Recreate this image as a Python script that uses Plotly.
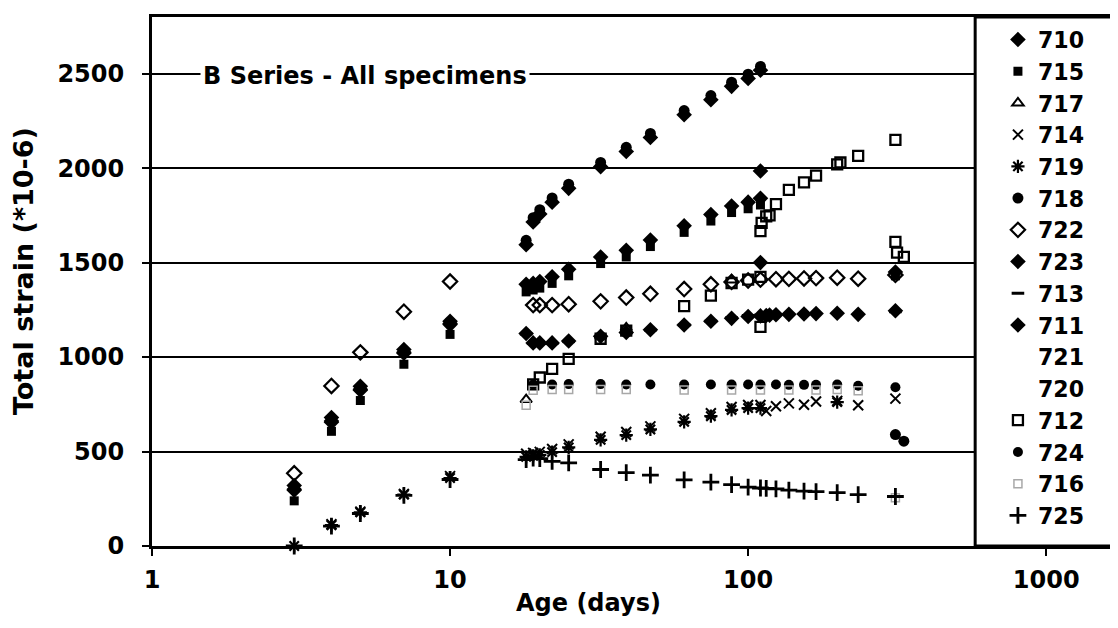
import plotly.graph_objects as go

# ---------------- data (age in days, total strain *10-6) ----------------
age_710 = [3, 4, 5, 7, 10, 18, 19, 20, 22, 25, 32, 39, 47, 61, 75, 88, 100, 110, 110]
s_710 = [320, 680, 845, 1040, 1190, 1595, 1715, 1757, 1820, 1893, 2008, 2088, 2162, 2283, 2362, 2433, 2475, 2518, 1985]

age_715 = [3, 4, 5, 7, 10, 18, 19, 20, 22, 25, 32, 39, 47, 61, 75, 88, 100, 110, 312]
s_715 = [239, 607, 770, 962, 1120, 1345, 1355, 1365, 1390, 1430, 1495, 1530, 1585, 1660, 1720, 1765, 1785, 1805, 1430]

age_717 = [18, 32, 39, 88]
s_717 = [775, 1112, 1155, 1408]

age_714 = [4, 5, 7, 10, 18, 19, 20, 22, 25, 32, 39, 47, 61, 75, 88, 100, 110, 115, 124, 137, 154, 169, 199, 234, 312]
s_714 = [115, 182, 275, 370, 488, 493, 498, 513, 538, 578, 603, 633, 673, 703, 736, 746, 746, 715, 740, 755, 748, 765, 768, 745, 780]

age_719 = [3, 4, 5, 7, 10, 18, 19, 20, 22, 25, 32, 39, 47, 61, 75, 88, 100, 110, 199]
s_719 = [0, 110, 178, 272, 360, 472, 477, 482, 497, 522, 562, 587, 617, 657, 687, 720, 730, 730, 762]

age_718 = [3, 4, 5, 7, 10, 18, 19, 20, 22, 25, 32, 39, 47, 61, 75, 88, 100, 110, 312, 333]
s_718 = [312, 668, 838, 1032, 1185, 1618, 1738, 1780, 1842, 1915, 2030, 2110, 2184, 2305, 2384, 2455, 2497, 2538, 590, 555]

age_722 = [3, 4, 5, 7, 10, 19, 20, 22, 25, 32, 39, 47, 61, 75, 88, 100, 110, 124, 137, 154, 169, 199, 234, 312]
s_722 = [385, 847, 1025, 1240, 1400, 1275, 1275, 1275, 1280, 1295, 1315, 1335, 1360, 1385, 1398, 1405, 1410, 1412, 1414, 1416, 1418, 1420, 1415, 1435]

age_723 = [3, 4, 5, 7, 10, 18, 19, 20, 22, 25, 32, 39, 47, 61, 75, 88, 100, 110, 110, 312]
s_723 = [300, 662, 830, 1025, 1178, 1385, 1390, 1400, 1425, 1465, 1530, 1565, 1620, 1695, 1755, 1800, 1820, 1840, 1500, 1450]

age_713 = [18, 19, 20, 22, 25, 32, 39, 47, 61, 75, 88, 100, 110, 312]
s_713 = [1122, 1072, 1072, 1072, 1082, 1108, 1128, 1143, 1170, 1190, 1208, 1220, 1222, 1240]

age_711 = [3, 4, 5, 7, 10, 18, 19, 20, 22, 25, 32, 39, 47, 61, 75, 88, 100, 110, 115, 118, 124, 137, 154, 169, 199, 234, 312]
s_711 = [295, 655, 825, 1020, 1172, 1125, 1075, 1075, 1075, 1085, 1110, 1130, 1145, 1170, 1190, 1205, 1215, 1218, 1220, 1222, 1224, 1226, 1228, 1230, 1232, 1226, 1245]

age_721 = [None]
s_721 = [None]
age_720 = [None]
s_720 = [None]

age_712 = [19, 20, 22, 25, 32, 39, 61, 75, 88, 100, 110, 110, 110, 111, 115, 118, 124, 137, 154, 169, 199, 204, 234, 312, 312, 316, 333]
s_712 = [855, 892, 938, 990, 1097, 1140, 1270, 1325, 1392, 1410, 1425, 1160, 1667, 1710, 1745, 1750, 1810, 1885, 1925, 1960, 2020, 2030, 2065, 2150, 1610, 1553, 1530]

age_724 = [19, 22, 25, 32, 39, 47, 61, 75, 88, 100, 110, 124, 137, 154, 169, 199, 234, 312]
s_724 = [855, 855, 857, 857, 855, 855, 855, 855, 855, 855, 855, 855, 853, 853, 853, 855, 848, 840]

age_716 = [18, 19, 22, 25, 32, 39, 61, 88, 110, 137, 169, 199, 234, 312]
s_716 = [745, 825, 828, 828, 828, 828, 826, 826, 826, 826, 826, 828, 822, 255]

age_725 = [3, 4, 5, 7, 10, 18, 19, 20, 22, 25, 32, 39, 47, 61, 75, 88, 100, 110, 115, 124, 137, 154, 169, 199, 234, 312]
s_725 = [0, 105, 172, 268, 352, 457, 465, 462, 448, 440, 405, 388, 375, 350, 338, 325, 312, 307, 305, 302, 296, 290, 288, 282, 272, 262]

names = ["710", "715", "717", "714", "719", "718", "722", "723", "713", "711",
         "721", "720", "712", "724", "716", "725"]
ages = [age_710, age_715, age_717, age_714, age_719, age_718, age_722, age_723, age_713,
        age_711, age_721, age_720, age_712, age_724, age_716, age_725]
strains = [s_710, s_715, s_717, s_714, s_719, s_718, s_722, s_723, s_713,
           s_711, s_721, s_720, s_712, s_724, s_716, s_725]

x_ticks = [1, 10, 100, 1000]
y_ticks = [0, 500, 1000, 1500, 2000, 2500]

K = "black"
styles = {
    "710": dict(symbol="diamond", size=12, color=K, line=dict(width=0)),
    "715": dict(symbol="square", size=9, color=K, line=dict(width=0)),
    "717": dict(symbol="triangle-up-open", size=10, color=K, line=dict(width=2, color=K)),
    "714": dict(symbol="x-thin-open", size=10, color=K, line=dict(width=2, color=K)),
    "719": dict(symbol="asterisk-open", size=11, color=K, line=dict(width=2.2, color=K)),
    "718": dict(symbol="circle", size=11, color=K, line=dict(width=0)),
    "722": dict(symbol="diamond-open", size=11, color=K, line=dict(width=2.2, color=K)),
    "723": dict(symbol="diamond", size=12, color=K, line=dict(width=0)),
    "713": dict(symbol="line-ew-open", size=9, color=K, line=dict(width=3, color=K)),
    "711": dict(symbol="diamond", size=12, color=K, line=dict(width=0)),
    "721": dict(symbol="circle", size=8, color="rgba(0,0,0,0)", line=dict(width=0)),
    "720": dict(symbol="circle", size=8, color="rgba(0,0,0,0)", line=dict(width=0)),
    "712": dict(symbol="square-open", size=10, color=K, line=dict(width=2.3, color=K)),
    "724": dict(symbol="circle", size=10, color=K, line=dict(width=0)),
    "716": dict(symbol="square-open", size=8, color="#a8a8a8", line=dict(width=1.5, color="#a8a8a8")),
    "725": dict(symbol="cross-thin-open", size=12, color=K, line=dict(width=2.8, color=K)),
}

FONT = "DejaVu Sans"

fig = go.Figure()
for n, a, s in zip(names, ages, strains):
    fig.add_trace(go.Scatter(x=a, y=s, mode="markers", name=n, marker=styles[n],
                             cliponaxis=False))

fig.update_layout(
    width=1118, height=628,
    margin=dict(l=144, r=2, t=9, b=90),
    paper_bgcolor="white", plot_bgcolor="white",
    font=dict(family=FONT, size=23, color="black", weight="bold"),
    showlegend=True,
    legend=dict(x=0.873, y=0.997, xanchor="left", yanchor="top",
                bgcolor="rgba(0,0,0,0)", borderwidth=0, maxheight=620,
                font=dict(family=FONT, size=22.1, color="black", weight="bold"),
                itemwidth=30, tracegroupgap=0),
    xaxis=dict(type="log", range=[0, 3.251], tickvals=x_ticks,
               ticktext=[str(v) for v in x_ticks],
               showgrid=False, zeroline=False, showline=True, linewidth=3,
               linecolor=K, mirror=True, ticks="outside", ticklen=7, tickwidth=1.5,
               tickcolor=K, ticklabelstandoff=3,
               tickfont=dict(family=FONT, size=24, color=K, weight="bold")),
    yaxis=dict(range=[0, 2800], tickvals=y_ticks, showgrid=True, gridcolor=K,
               gridwidth=1.5, zeroline=False, showline=True, linewidth=3,
               linecolor=K, mirror=True, ticks="outside", ticklen=7, tickwidth=1.5,
               tickcolor=K, ticklabelstandoff=13,
               tickfont=dict(family=FONT, size=24, color=K, weight="bold")),
    shapes=[dict(type="rect", xref="paper", yref="paper",
                 x0=0.8495, x1=1.0, y0=0.0, y1=1.0,
                 line=dict(color=K, width=3), fillcolor="white", layer="above")],
    annotations=[
        dict(text="B Series - All specimens", xref="paper", yref="paper",
             x=0.05, y=0.889, xanchor="left", yanchor="middle", showarrow=False,
             bgcolor="white", borderpad=2,
             font=dict(family=FONT, size=24, color=K, weight="bold")),
        dict(text="Total strain (*10-6)", xref="paper", yref="paper",
             x=-0.132, y=0.52, xanchor="center", yanchor="middle", showarrow=False,
             textangle=-90, font=dict(family=FONT, size=27, color=K, weight="bold")),
        dict(text="Age (days)", xref="paper", yref="paper",
             x=0.45, y=-0.108, xanchor="center", yanchor="middle", showarrow=False,
             font=dict(family=FONT, size=24, color=K, weight="bold")),
    ],
)

fig.write_html("out.html")
